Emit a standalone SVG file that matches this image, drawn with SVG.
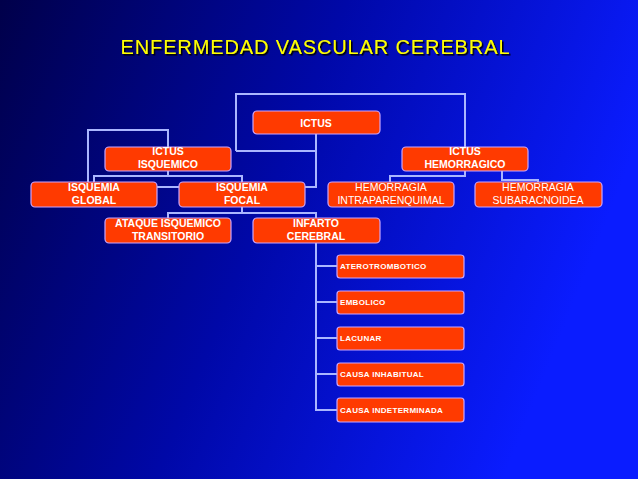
<svg xmlns="http://www.w3.org/2000/svg" width="638" height="479" viewBox="0 0 638 479">
<defs>
<linearGradient id="bg" x1="0" y1="0" x2="1" y2="0.3">
<stop offset="0" stop-color="#00004a"/>
<stop offset="0.5" stop-color="#0008a8"/>
<stop offset="1" stop-color="#0a1cff"/>
</linearGradient>
<filter id="sh" x="-5%" y="-30%" width="110%" height="160%"><feDropShadow dx="1.5" dy="1.5" stdDeviation="0" flood-color="#000"/></filter>
<style>
.b{fill:#ff3a00;stroke:#c9a6ff;stroke-width:1.2}
.t{font-family:"Liberation Sans",Arial,sans-serif;font-size:10.5px;fill:#fff;text-anchor:middle;font-weight:bold}
.r{font-weight:normal}
.s{font-family:"Liberation Sans",Arial,sans-serif;font-size:8px;fill:#fff;font-weight:bold;letter-spacing:0.3px}
.c{fill:none;stroke:#aab6ff;stroke-width:2}
</style>
</defs>
<rect width="638" height="479" fill="url(#bg)"/>
<text x="315" y="54" font-family="Liberation Sans,Arial,sans-serif" font-size="20" fill="#ffff00" text-anchor="middle" textLength="389" filter="url(#sh)">ENFERMEDAD VASCULAR CEREBRAL</text>
<g id="connectors">
<path class="c" d="M236,151 V94 H465 V147"/>
<path class="c" d="M236,151 H316 M316,134 V187 H305"/>
<path class="c" d="M168,147 V130 H88 V182"/>
<path class="c" d="M168,171 V176 M94,182 V176 H242 V182 M157,187 H179"/>
<path class="c" d="M465,171 V176 H390 V182 M502,171 V180 H538 V182"/>
<path class="c" d="M242,207 V213 M168,218 V213 H316 V218"/>
<path class="c" d="M316,243 V410 H337 M316,266 H337 M316,302 H337 M316,338 H337 M316,374 H337"/>
</g>
<g id="ictus"><rect class="b" x="253" y="111" width="127" height="23" rx="4"/><text class="t" x="316" y="127" font-size="12.5">ICTUS</text></g>
<g id="isq"><rect class="b" x="105" y="147" width="126" height="24" rx="4"/><text class="t" x="168" y="155">ICTUS</text><text class="t" x="168" y="168">ISQUEMICO</text></g>
<g id="hem"><rect class="b" x="402" y="147" width="126" height="24" rx="4"/><text class="t" x="465" y="155">ICTUS</text><text class="t" x="465" y="168">HEMORRAGICO</text></g>
<g id="global"><rect class="b" x="31" y="182" width="126" height="25" rx="4"/><text class="t" x="94" y="191">ISQUEMIA</text><text class="t" x="94" y="204">GLOBAL</text></g>
<g id="focal"><rect class="b" x="179" y="182" width="126" height="25" rx="4"/><text class="t" x="242" y="191">ISQUEMIA</text><text class="t" x="242" y="204">FOCAL</text></g>
<g id="intra"><rect class="b" x="328" y="182" width="126" height="25" rx="4"/><text class="t r" x="391" y="191">HEMORRAGIA</text><text class="t r" x="391" y="204">INTRAPARENQUIMAL</text></g>
<g id="sub"><rect class="b" x="475" y="182" width="127" height="25" rx="4"/><text class="t r" x="538" y="191">HEMORRAGIA</text><text class="t r" x="538" y="204">SUBARACNOIDEA</text></g>
<g id="ait"><rect class="b" x="105" y="218" width="126" height="25" rx="4"/><text class="t" x="168" y="227">ATAQUE ISQUEMICO</text><text class="t" x="168" y="240">TRANSITORIO</text></g>
<g id="infarto"><rect class="b" x="253" y="218" width="127" height="25" rx="4"/><text class="t" x="316" y="227">INFARTO</text><text class="t" x="316" y="240">CEREBRAL</text></g>
<g id="atero"><rect class="b" x="337" y="255" width="127" height="23" rx="3"/><text class="s" x="340" y="269">ATEROTROMBOTICO</text></g>
<g id="embo"><rect class="b" x="337" y="291" width="127" height="23" rx="3"/><text class="s" x="340" y="305">EMBOLICO</text></g>
<g id="lac"><rect class="b" x="337" y="327" width="127" height="23" rx="3"/><text class="s" x="340" y="341">LACUNAR</text></g>
<g id="inh"><rect class="b" x="337" y="363" width="127" height="23" rx="3"/><text class="s" x="340" y="377">CAUSA INHABITUAL</text></g>
<g id="indet"><rect class="b" x="337" y="398" width="127" height="24" rx="3"/><text class="s" x="340" y="413">CAUSA INDETERMINADA</text></g>
</svg>
